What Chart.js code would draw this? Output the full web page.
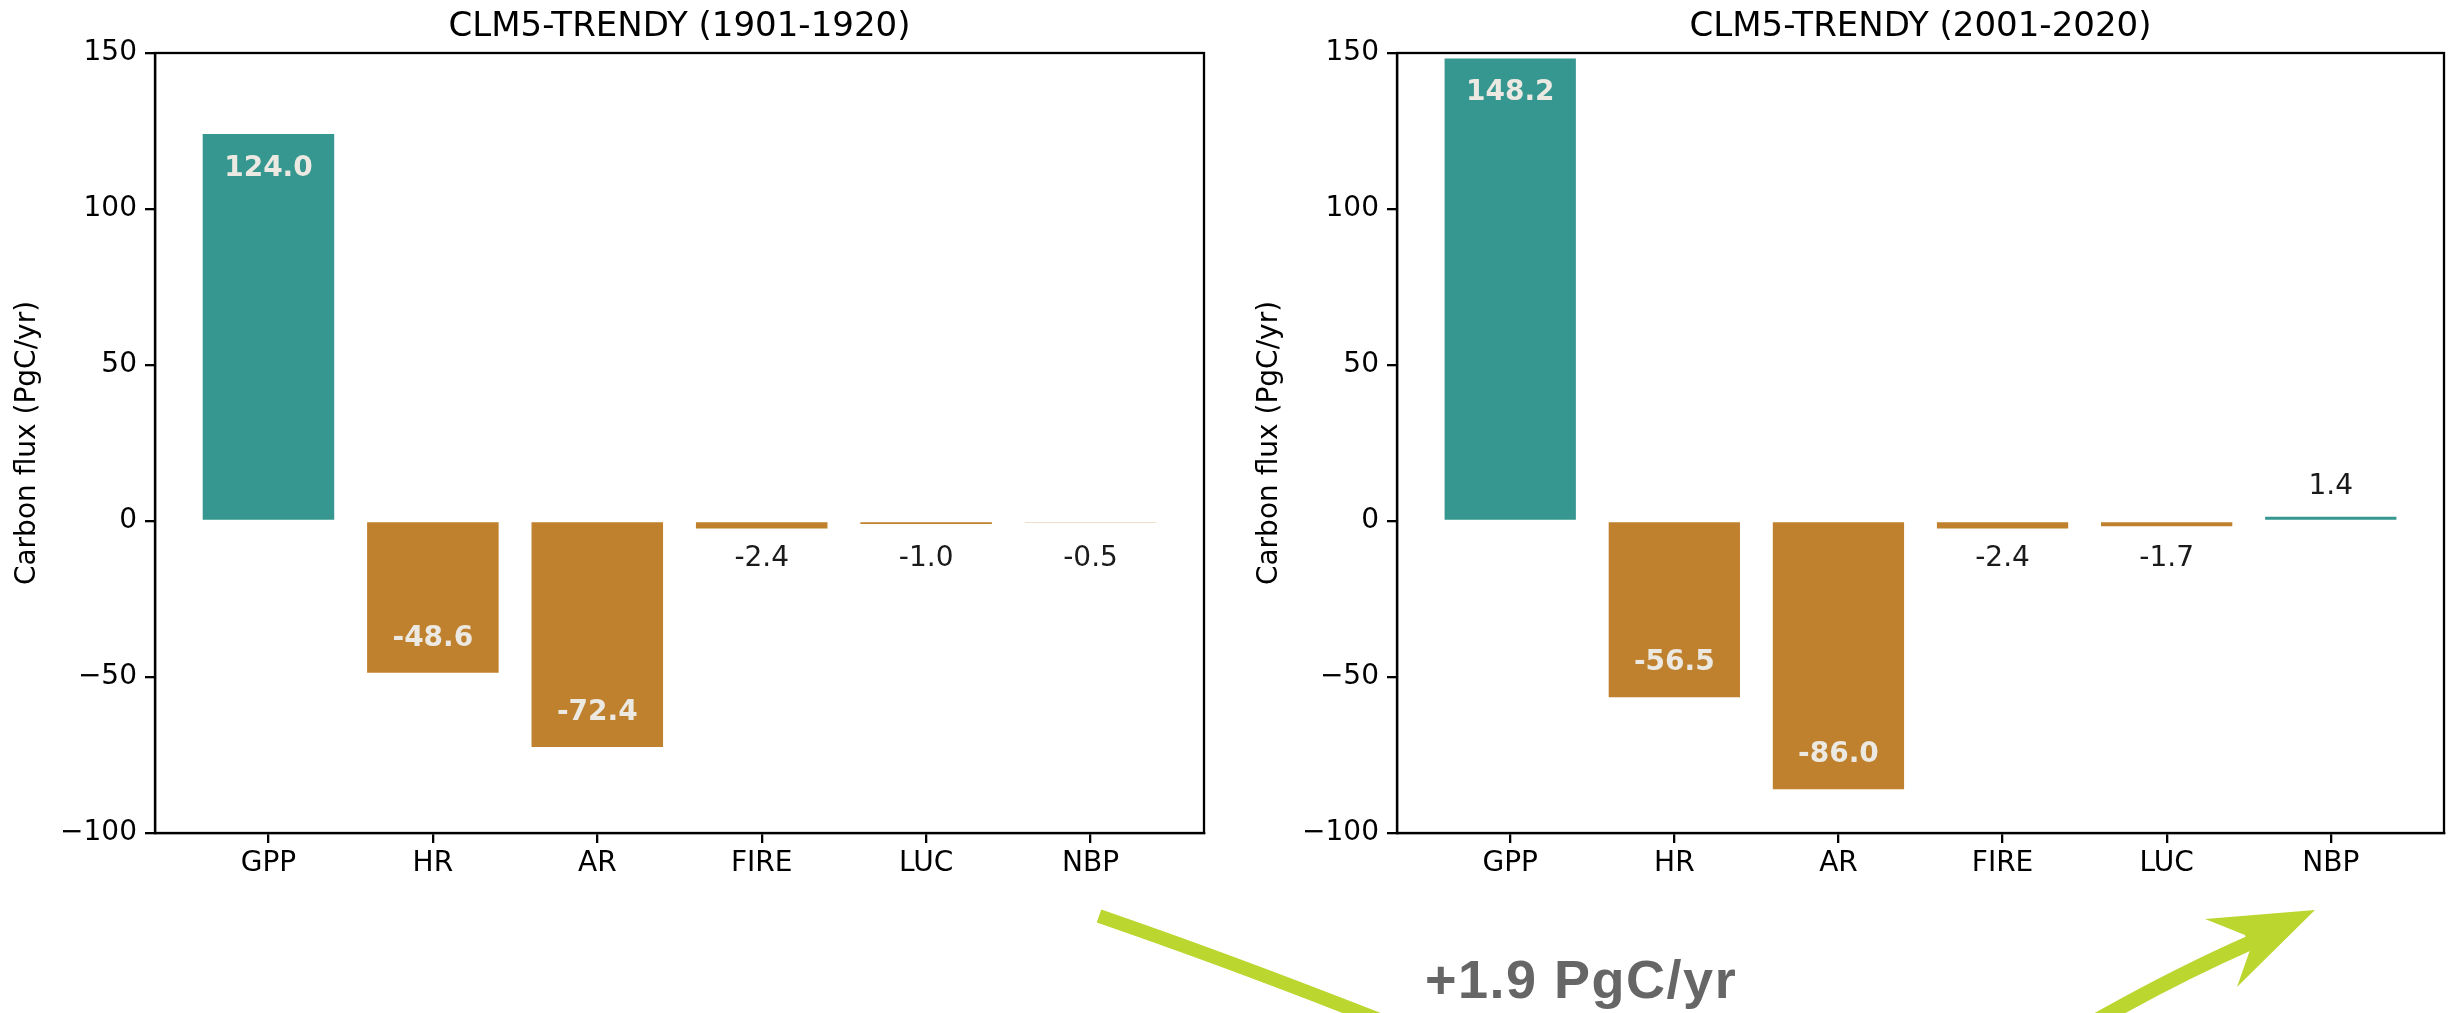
<!DOCTYPE html>
<html>
<head>
<meta charset="utf-8">
<script src="https://cdn.jsdelivr.net/npm/chart.js@4.4.1/dist/chart.umd.min.js"></script>
<style>
  html, body { margin: 0; padding: 0; background: #fff; }
  #wrap { position: relative; width: 2458px; height: 1013px; overflow: hidden; }
  canvas { position: absolute; top: 0; }
  #left { left: 0; }
  #right { left: 1230px; }
  #overlay { left: 0; pointer-events: none; }
</style>
</head>
<body>
<div id="wrap">
  <canvas id="left" width="1230" height="1013"></canvas>
  <canvas id="right" width="1228" height="1013"></canvas>
  <canvas id="overlay" width="2458" height="1013"></canvas>
</div>
<script>
// flux components, PgC/yr
const categories = ["GPP", "HR", "AR", "FIRE", "LUC", "NBP"];
const flux1901 = [124.0, -48.6, -72.4, -2.4, -1.0, -0.5];
const flux2001 = [148.2, -56.5, -86.0, -2.4, -1.7, 1.4];
const yTicks = [-100, -50, 0, 50, 100, 150];
const periods = ["CLM5-TRENDY (1901-1920)", "CLM5-TRENDY (2001-2020)"];

const TEAL = "#35978f";
const BROWN = "#bf812d";
const FONT = "'DejaVu Sans', sans-serif";
const SPINE = 2.3;

Chart.defaults.font.family = FONT;
Chart.defaults.font.size = 28;
Chart.defaults.color = "#000";

// matplotlib-style closed box around the plot area
const frame = {
  id: "frame",
  afterDraw(chart) {
    const { ctx, chartArea: a } = chart;
    ctx.save();
    ctx.strokeStyle = "#000";
    ctx.lineWidth = SPINE;
    ctx.strokeRect(a.left, a.top, a.right - a.left, a.bottom - a.top);
    ctx.restore();
  }
};

// title centred over the plot area, not the canvas
const axTitle = {
  id: "axTitle",
  afterDraw(chart, args, opts) {
    const { ctx, chartArea: a } = chart;
    ctx.save();
    ctx.font = "34px " + FONT;
    ctx.fillStyle = "#000";
    ctx.textAlign = "center";
    ctx.textBaseline = "alphabetic";
    ctx.fillText(opts.text, (a.left + a.right) / 2, a.top - 17);
    ctx.restore();
  }
};

// value labels: inside big bars, outside the small ones
const barLabels = {
  id: "barLabels",
  afterDatasetsDraw(chart) {
    const ctx = chart.ctx;
    const y = chart.scales.y;
    const pts = chart.data.datasets[0].data;
    chart.getDatasetMeta(0).data.forEach((bar, i) => {
      const v = pts[i].y;
      const s = v >= 0 ? 1 : -1;
      let py;
      ctx.save();
      ctx.textAlign = "center";
      ctx.textBaseline = "middle";
      if (Math.abs(v) > 20) {
        py = y.getPixelForValue(v - s * 11);
        ctx.font = "bold 28px " + FONT;
        ctx.fillStyle = "#ece9e2";
      } else {
        py = y.getPixelForValue(s > 0 ? 11 : -12);
        ctx.font = "28px " + FONT;
        ctx.fillStyle = "#1a1a1a";
      }
      ctx.fillText(v.toFixed(1), bar.x, py);
      ctx.restore();
    });
  }
};

function makeChart(id, values, title, padLeft, padRight) {
  return new Chart(document.getElementById(id), {
    type: "bar",
    data: {
      datasets: [{
        data: values.map((v, i) => ({ x: i, y: v })),
        backgroundColor: values.map(v => (v >= 0 ? TEAL : BROWN)),
        borderWidth: 0,
        barPercentage: 0.8,
        categoryPercentage: 1
      }]
    },
    options: {
      responsive: false,
      animation: false,
      layout: { padding: { left: padLeft, right: padRight, top: 53, bottom: 0 } },
      plugins: {
        legend: { display: false },
        tooltip: { enabled: false },
        axTitle: { text: title }
      },
      scales: {
        x: {
          type: "linear",
          min: -0.69,
          max: 5.69,
          offset: false,
          afterBuildTicks: ax => { ax.ticks = categories.map((c, i) => ({ value: i })); },
          afterFit: ax => { ax.height = 180; },
          ticks: {
            callback: v => categories[v],
            color: "#000",
            padding: 4,
            autoSkip: false,
            maxRotation: 0
          },
          grid: { offset: false, drawOnChartArea: false, tickLength: 10, color: "#000", lineWidth: SPINE },
          border: { color: "#000", width: SPINE }
        },
        y: {
          min: -100,
          max: 150,
          afterBuildTicks: ax => { ax.ticks = yTicks.map(v => ({ value: v })); },
          afterFit: ax => { ax.width = 155; },
          ticks: {
            callback: v => (v < 0 ? "\u2212" + Math.abs(v) : String(v)),
            color: "#000",
            padding: 8
          },
          grid: { drawOnChartArea: false, tickLength: 10, color: "#000", lineWidth: SPINE },
          border: { color: "#000", width: SPINE },
          title: {
            display: true,
            text: "Carbon flux (PgC/yr)",
            color: "#000",
            font: { size: 28 },
            padding: { top: 11, bottom: 0 }
          }
        }
      }
    },
    plugins: [frame, axTitle, barLabels]
  });
}

makeChart("left", flux1901, periods[0], 0, 26);
makeChart("right", flux2001, periods[1], 12, 14);

// NBP change arrow between the two periods
(function drawChange() {
  const ctx = document.getElementById("overlay").getContext("2d");
  const green = "#bad62f";
  const nbp = categories.indexOf("NBP");
  const change = flux2001[nbp] - flux1901[nbp];

  ctx.strokeStyle = green;
  ctx.fillStyle = green;
  ctx.lineCap = "butt";

  ctx.lineWidth = 14;
  ctx.beginPath();
  ctx.moveTo(1099, 916);
  ctx.quadraticCurveTo(1250, 968, 1430, 1040);
  ctx.stroke();

  ctx.lineWidth = 15;
  ctx.beginPath();
  ctx.moveTo(2080, 1030);
  ctx.quadraticCurveTo(2170, 978, 2252, 942);
  ctx.stroke();

  ctx.beginPath();
  ctx.moveTo(2315, 910);
  ctx.lineTo(2205, 919);
  ctx.lineTo(2245, 935);
  ctx.lineTo(2250, 950);
  ctx.lineTo(2237, 987);
  ctx.closePath();
  ctx.fill();

  ctx.font = "bold 54px 'Liberation Sans', Arial, sans-serif";
  ctx.letterSpacing = "1.5px";
  ctx.fillStyle = "#666666";
  ctx.textBaseline = "alphabetic";
  ctx.fillText((change >= 0 ? "+" : "") + change.toFixed(1) + " PgC/yr", 1425, 998);
})();
</script>
</body>
</html>
